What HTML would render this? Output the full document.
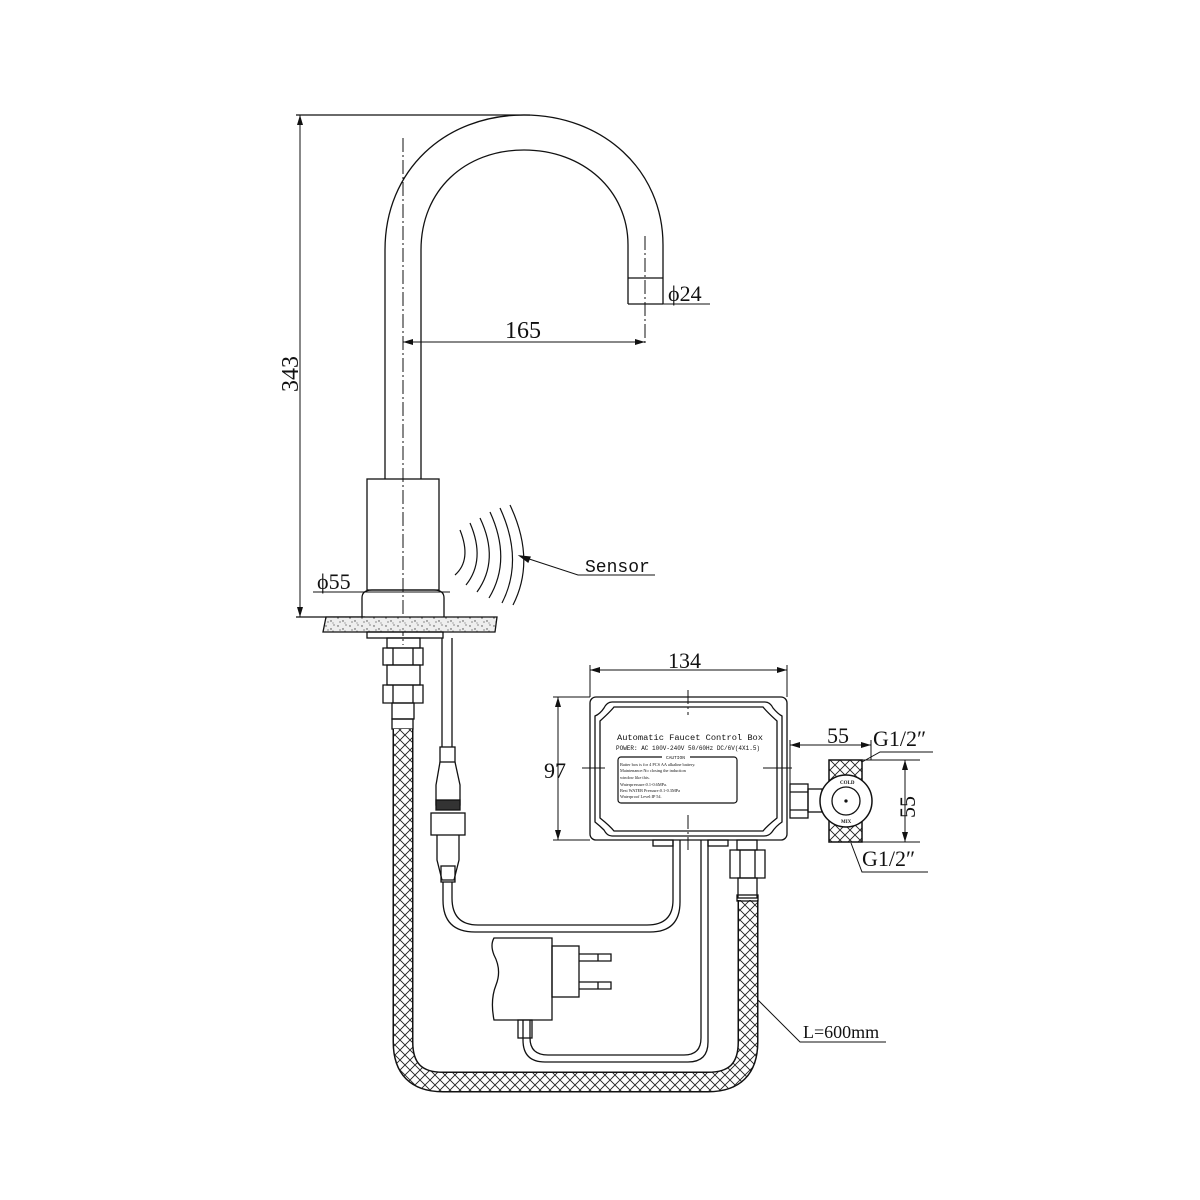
<!DOCTYPE html>
<html><head><meta charset="utf-8"><style>
html,body{margin:0;padding:0;background:#fff;}
svg{display:block;}
text{font-family:"Liberation Serif",serif;fill:#111;}
.m{font-family:"Liberation Mono",monospace;}
</style></head><body>
<svg width="1200" height="1200" viewBox="0 0 1200 1200" xmlns="http://www.w3.org/2000/svg" fill="none" stroke="#111" stroke-width="1.3">
<defs>
<pattern id="hx" width="10" height="10" patternUnits="userSpaceOnUse">
<rect width="10" height="10" fill="#fff" stroke="none"/>
<path d="M0 0L10 10M10 0L0 10" stroke="#222" stroke-width="0.9"/>
</pattern>
<pattern id="sp" width="12" height="8" patternUnits="userSpaceOnUse">
<rect width="12" height="8" fill="#eee" stroke="none"/>
<g fill="#444" stroke="none"><circle cx="2" cy="2" r=".7"/><circle cx="7" cy="5" r=".7"/><circle cx="10" cy="1" r=".6"/><circle cx="4" cy="6" r=".6"/><circle cx="9" cy="7" r=".5"/></g>
</pattern>
<marker id="ar" markerWidth="10" markerHeight="6" refX="10" refY="3" orient="auto-start-reverse" markerUnits="userSpaceOnUse"><path d="M0 0L10 3L0 6z" fill="#111" stroke="none"/></marker>
</defs>

<path d="M385 479 L385 250 C385 170 445 115 524 115 C603 115 663 170 663 245 L663 304"/>
<path d="M421 479 L421 250 C421 190 465 150 524 150 C583 150 628 190 628 245 L628 304"/>
<line x1="628" y1="278" x2="663" y2="278"/>
<line x1="628" y1="304" x2="663" y2="304"/>
<line x1="403" y1="138" x2="403" y2="645" stroke-dasharray="14 3 2 3" stroke-width="1"/>
<line x1="645" y1="236" x2="645" y2="345" stroke-dasharray="14 3 2 3" stroke-width="1"/>
<line x1="296" y1="115" x2="530" y2="115"/>
<line x1="296" y1="617" x2="365" y2="617"/>
<line x1="300" y1="115" x2="300" y2="617" marker-start="url(#ar)" marker-end="url(#ar)" stroke-width="1"/>
<text x="0" y="0" font-size="24" transform="translate(298,392) rotate(-90)" stroke="none">343</text>
<line x1="403" y1="342" x2="645" y2="342" marker-start="url(#ar)" marker-end="url(#ar)" stroke-width="1"/>
<text x="505" y="338" font-size="24" stroke="none">165</text>
<line x1="628" y1="304" x2="710" y2="304" stroke-width="1"/>
<text x="668" y="301" font-size="22" stroke="none">ϕ24</text>
<rect x="367" y="479" width="72" height="111"/>
<path d="M362 617 L362 598 Q362 590 372 590 L434 590 Q444 590 444 598 L444 617"/>
<line x1="313" y1="592" x2="450" y2="592" stroke-width="1"/>
<text x="317" y="589" font-size="22" stroke="none">ϕ55</text>
<path d="M326 617 L497 617 L495 632 L323 632 Z" fill="url(#sp)"/>
<rect x="367" y="632" width="76" height="6"/>
<g stroke-width="1.2">
<path d="M460 530 Q472 560 455 575"/>
<path d="M470 523 Q486 560 466 585"/>
<path d="M480 518 Q500 560 477 592"/>
<path d="M490 512 Q512 560 489 598"/>
<path d="M500 508 Q524 560 502 603"/>
<path d="M510 505 Q536 560 513 605"/>
</g>
<path d="M520 556 L578 575 L655 575" stroke-width="1"/>
<path d="M520 556 L530 557 L528 562 Z" fill="#111"/>
<text x="585" y="572" font-size="18" class="m" stroke="none">Sensor</text>

<rect x="387" y="638" width="33" height="10"/>
<path d="M383 648 h40 v17 h-40 z M393 648 v17 M413 648 v17"/>
<rect x="387" y="665" width="33" height="20"/>
<path d="M383 685 h40 v18 h-40 z M393 685 v18 M413 685 v18"/>
<rect x="392" y="703" width="22" height="16"/>
<rect x="392" y="719" width="21" height="10"/>
<path d="M403 729 L403 1042 Q403 1082 443 1082 L708 1082 Q748 1082 748 1042 L748 900" stroke="#111" stroke-width="21"/>
<path d="M403 729 L403 1042 Q403 1082 443 1082 L708 1082 Q748 1082 748 1042 L748 900" stroke="url(#hx)" stroke-width="18"/>
<rect x="737" y="840" width="20" height="10"/>
<path d="M730 850 h35 v28 h-35 z M740 850 v28 M755 850 v28"/>
<rect x="738" y="878" width="19" height="20"/>
<rect x="737" y="895" width="21" height="6"/>

<line x1="442" y1="638" x2="442" y2="747"/>
<line x1="452" y1="638" x2="452" y2="747"/>
<rect x="440" y="747" width="15" height="15"/>
<path d="M440 762 L436 785 L436 805 L460 805 L460 785 L455 762"/>
<rect x="436" y="800" width="24" height="10" fill="#333"/>
<rect x="431" y="813" width="34" height="22"/>
<path d="M437 835 L437 860 L442 880 L454 880 L459 860 L459 835"/>
<rect x="441" y="866" width="14" height="16"/>
<path d="M443 882 L443 900 Q443 932 475 932 L650 932 Q680 932 680 902 L680 840"/>
<path d="M452 882 L452 898 Q452 925 478 925 L647 925 Q673 925 673 900 L673 840"/>
<path d="M523 1020 L523 1040 Q523 1062 545 1062 L688 1062 Q708 1062 708 1042 L708 840"/>
<path d="M530 1020 L530 1038 Q530 1055 548 1055 L684 1055 Q701 1055 701 1038 L701 840"/>
<rect x="518" y="1020" width="14" height="18"/>
<path d="M494 938 L552 938 L552 1020 L494 1020 Q490 1000 496 985 Q502 970 494 955 Q490 945 494 938 Z"/>
<rect x="552" y="946" width="27" height="51"/>
<path d="M579 954 h32 v7 h-32 M579 982 h32 v7 h-32"/>
<line x1="598" y1="954" x2="598" y2="961"/><line x1="598" y1="982" x2="598" y2="989"/>
<path d="M758 1000 L800 1042 L886 1042" stroke-width="1"/>
<text x="803" y="1038" font-size="18" stroke="none">L=600mm</text>

<rect x="653" y="840" width="20" height="6"/><rect x="708" y="840" width="20" height="6"/>
<rect x="590" y="697" width="197" height="143" rx="6"/>
<path d="M612 702 L765 702 Q770 702 773 708 Q778 714 782 716 L782 822 Q776 826 772 832 Q769 836 764 836 L612 836 Q607 836 604 830 Q600 826 595 822 L595 716 Q600 714 604 708 Q607 702 612 702 Z"/>
<path d="M614 707 L763 707 Q767 712 777 721 L777 818 Q767 826 763 831 L614 831 Q610 826 600 818 L600 721 Q610 712 614 707 Z"/>
<line x1="688" y1="690" x2="688" y2="715" stroke-dasharray="14 3 2 3" stroke-width="1"/>
<line x1="688" y1="815" x2="688" y2="850" stroke-dasharray="14 3 2 3" stroke-width="1"/>
<line x1="582" y1="768" x2="605" y2="768" stroke-width="1"/>
<line x1="763" y1="768" x2="792" y2="768" stroke-width="1"/>
<text x="617" y="740" font-size="8.7" class="m" stroke="none">Automatic Faucet Control Box</text>
<text x="616" y="750" font-size="6" class="m" stroke="none">POWER: AC 100V-240V 50/60Hz DC/6V(4X1.5)</text>
<rect x="618" y="757" width="119" height="46" rx="3" stroke-width="1.2"/>
<rect x="662" y="754" width="28" height="6" fill="#fff" stroke="none"/>
<text x="666" y="759" font-size="4.5" class="m" stroke="none">CAUTION</text>
<g font-size="4.3" class="m" stroke="none">
<text x="620" y="766">Batter box is for 4 PCS AA alkaline battery.</text>
<text x="620" y="772">Maintenance:No closing the induction</text>
<text x="620" y="779">window like this.</text>
<text x="620" y="786">Waterpressure:0.1-0.6MPa.</text>
<text x="620" y="792">Best WATER Pressure:0.1-0.3MPa</text>
<text x="620" y="798">Waterproof Level:IP 54.</text>
</g>
<line x1="590" y1="665" x2="590" y2="697" stroke-width="1"/>
<line x1="787" y1="665" x2="787" y2="697" stroke-width="1"/>
<line x1="590" y1="670" x2="787" y2="670" marker-start="url(#ar)" marker-end="url(#ar)" stroke-width="1"/>
<text x="668" y="668" font-size="22" stroke="none">134</text>
<line x1="553" y1="697" x2="590" y2="697" stroke-width="1"/>
<line x1="553" y1="840" x2="590" y2="840" stroke-width="1"/>
<line x1="558" y1="697" x2="558" y2="840" marker-start="url(#ar)" marker-end="url(#ar)" stroke-width="1"/>
<text x="544" y="778" font-size="22" stroke="none">97</text>

<rect x="790" y="784" width="18" height="34"/>
<line x1="790" y1="792" x2="808" y2="792"/><line x1="790" y1="810" x2="808" y2="810"/>
<rect x="808" y="789" width="14" height="23"/>
<rect x="829" y="760" width="33" height="22" fill="url(#hx)" stroke-width="1.5"/>
<rect x="829" y="820" width="33" height="22" fill="url(#hx)" stroke-width="1.5"/>
<circle cx="846" cy="801" r="26" fill="#fff" stroke-width="1.5"/>
<circle cx="846" cy="801" r="14"/>
<circle cx="846" cy="801" r="1" fill="#111"/>
<g font-size="5" font-weight="bold" stroke="none" class="m"><text x="840" y="784">COLD</text><text x="841" y="823">MIX</text></g>
<line x1="790" y1="740" x2="790" y2="784" stroke-width="1"/>
<line x1="871" y1="740" x2="871" y2="760" stroke-width="1"/>
<line x1="790" y1="745" x2="871" y2="745" marker-start="url(#ar)" marker-end="url(#ar)" stroke-width="1"/>
<text x="827" y="743" font-size="22" stroke="none">55</text>
<text x="873" y="746" font-size="22" stroke="none">G1/2″</text>
<path d="M862 762 L880 752 L933 752" stroke-width="1"/>
<line x1="862" y1="760" x2="920" y2="760" stroke-width="1"/>
<line x1="862" y1="842" x2="920" y2="842" stroke-width="1"/>
<line x1="905" y1="760" x2="905" y2="842" marker-start="url(#ar)" marker-end="url(#ar)" stroke-width="1"/>
<text x="0" y="0" font-size="22" transform="translate(915,818) rotate(-90)" stroke="none">55</text>
<path d="M851 843 L862 872 L928 872" stroke-width="1"/>
<text x="862" y="866" font-size="22" stroke="none">G1/2″</text>
</svg>
</body></html>
